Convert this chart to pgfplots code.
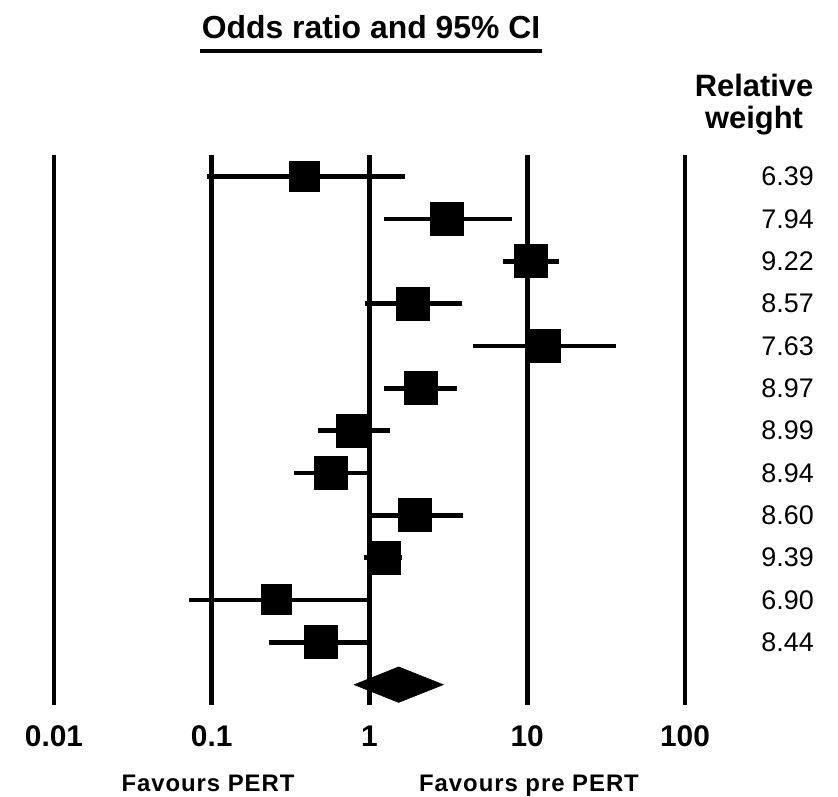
\documentclass[border=0pt]{standalone}
\usepackage{pgfplots}
\pgfplotsset{compat=1.18}
\usepackage{fontspec}
\setmainfont{Liberation Sans}
\begin{document}
\begin{tikzpicture}
\useasboundingbox (-54bp,-92bp) rectangle (784bp,705bp);
\begin{axis}[
  at={(0,0)}, anchor=south west,
  scale only axis, width=631bp, height=550bp,
  xmode=log, xmin=0.01, xmax=100,
  ymin=-13.48, ymax=-0.49,
  axis x line=bottom, axis y line=none,
  axis line style={draw=none},
  xtick={0.01,0.1,1,10,100},
  minor xtick={},
  xticklabels={\textbf{0.01},\textbf{0.1},\textbf{1},\textbf{10},\textbf{100}},
  major tick length=0pt, minor tick length=0pt,
  xticklabel style={font=\fontsize{30}{32}\selectfont, anchor=center, yshift=-31bp, inner sep=0pt},
  clip=false,
]
% vertical reference lines
\addplot[black, line width=4.8bp] coordinates {(0.01,-0.49) (0.01,-13.48)};
\addplot[black, line width=4.8bp] coordinates {(0.1,-0.49) (0.1,-13.48)};
\addplot[black, line width=4.8bp] coordinates {(1,-0.49) (1,-13.48)};
\addplot[black, line width=4.8bp] coordinates {(10,-0.49) (10,-13.48)};
\addplot[black, line width=4.8bp] coordinates {(100,-0.49) (100,-13.48)};
% confidence intervals
\addplot[black, line width=4.8bp] coordinates {(0.093,-1) (1.69,-1)};
\addplot[black, line width=4.8bp] coordinates {(1.23,-2) (8.04,-2)};
\addplot[black, line width=4.8bp] coordinates {(7.05,-3) (15.9,-3)};
\addplot[black, line width=4.8bp] coordinates {(0.94,-4) (3.88,-4)};
\addplot[black, line width=4.8bp] coordinates {(4.55,-5) (36.6,-5)};
\addplot[black, line width=4.8bp] coordinates {(1.23,-6) (3.61,-6)};
\addplot[black, line width=4.8bp] coordinates {(0.475,-7) (1.34,-7)};
\addplot[black, line width=4.8bp] coordinates {(0.33,-8) (0.97,-8)};
\addplot[black, line width=4.8bp] coordinates {(1.00,-9) (3.94,-9)};
\addplot[black, line width=4.8bp] coordinates {(0.92,-10) (1.60,-10)};
\addplot[black, line width=4.8bp] coordinates {(0.0715,-11) (0.97,-11)};
\addplot[black, line width=4.8bp] coordinates {(0.23,-12) (1.02,-12)};
% point estimates
\addplot[only marks, mark=square*, mark size=15bp, mark options={fill=black, draw=black, line width=0pt}]
  coordinates {(0.39,-1) (0.258,-11)};
\addplot[only marks, mark=square*, mark size=16.5bp, mark options={fill=black, draw=black, line width=0pt}]
  coordinates {(3.12,-2) (10.6,-3) (1.90,-4) (12.8,-5) (2.13,-6) (0.79,-7) (0.567,-8) (1.95,-9) (1.23,-10) (0.49,-12)};
% pooled estimate
\addplot[fill=black, draw=black, line width=0.5bp] coordinates {(0.80,-13) (1.53,-12.58) (2.94,-13) (1.53,-13.42)} -- cycle;
\end{axis}
% title
\node[font=\bfseries\fontsize{32}{34}\selectfont, inner sep=0pt] at (317bp,678bp) {Odds ratio and 95\% CI};
\draw[line width=3.2bp] (146bp,654bp) -- (488bp,654bp);
% relative weight header
\node[font=\bfseries\fontsize{31}{33}\selectfont, inner sep=0pt, anchor=base] at (700bp,608bp) {Relative};
\node[font=\bfseries\fontsize{31}{33}\selectfont, inner sep=0pt, anchor=base] at (700bp,576bp) {weight};
% weights
\foreach \w [count=\i] in {6.39,7.94,9.22,8.57,7.63,8.97,8.99,8.94,8.60,9.39,6.90,8.44}{
  \node[font=\fontsize{27}{29}\selectfont, inner sep=0pt, anchor=east] at (760bp,{(528.5-(\i-1)*42.33)*1bp}) {\w};
}
% favours labels
\node[font=\bfseries\fontsize{24}{26}\selectfont\addfontfeatures{LetterSpace=4}, inner sep=0pt, anchor=base] at (154bp,-86bp) {Favours PERT};
\node[font=\bfseries\fontsize{24}{26}\selectfont\addfontfeatures{LetterSpace=4}, inner sep=0pt, anchor=base] at (475bp,-86bp) {Favours pre PERT};
\end{tikzpicture}
\end{document}
